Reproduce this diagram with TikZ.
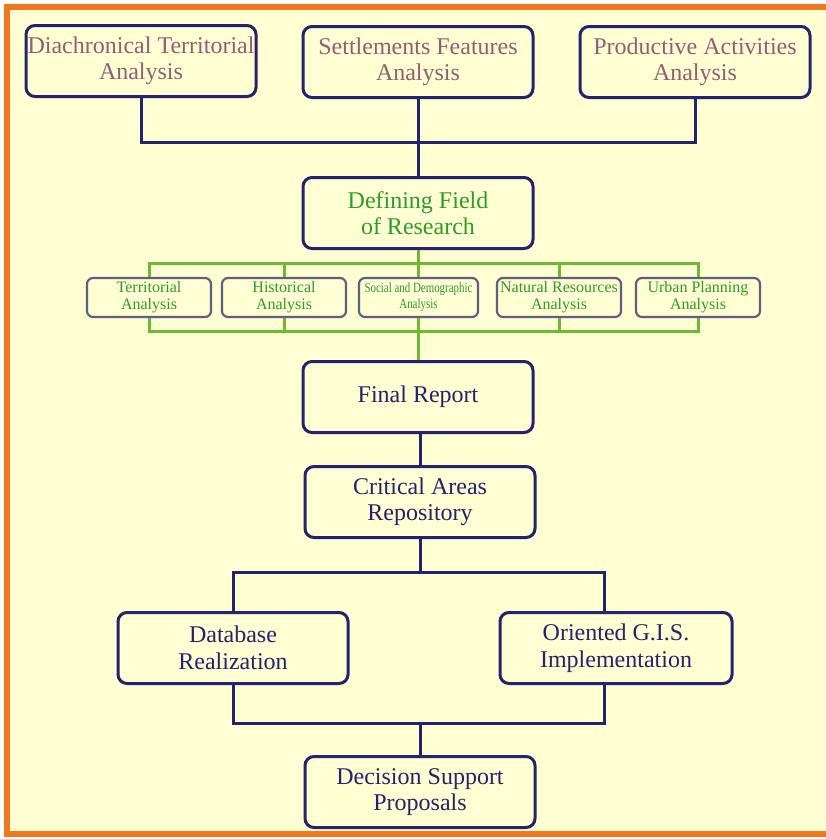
\documentclass[tikz,border=0pt]{standalone}
\usepackage{fontspec}
\setmainfont{Liberation Serif}
\newfontfamily\narrowserif[FakeStretch=0.78]{Liberation Serif}
\usepackage{xcolor}
\definecolor{navy}{RGB}{35,35,110}
\definecolor{mauve}{RGB}{145,95,115}
\definecolor{leaf}{RGB}{45,155,45}
\definecolor{leafline}{RGB}{110,185,50}
\definecolor{slate}{RGB}{95,95,130}
\definecolor{cream}{RGB}{255,253,210}
\definecolor{frame}{RGB}{240,120,30}

\begin{document}
\begin{tikzpicture}[x=1pt,y=-1pt,every node/.style={align=center,inner sep=1pt},bigbox/.style={draw=navy,line width=3pt,rounded corners=9pt,minimum width=230pt,minimum height=71pt,font=\fontsize{24}{26.5}\selectfont},smallbox/.style={draw=slate,line width=2.2pt,rounded corners=6pt,minimum width=124pt,minimum height=39pt,font=\fontsize{16}{17}\selectfont,text=leaf},navyline/.style={draw=navy,line width=3pt},greenline/.style={draw=leafline,line width=3pt}]
\clip (0,0) rectangle (826,839);
\fill[white] (0,0) rectangle (826,839);
\draw[frame,fill=cream,line width=6pt] (7,7) rectangle (850,834);
\node[bigbox,text=mauve] (dia) at (141,61) {Diachronical Territorial\\Analysis};
\node[bigbox,text=mauve] (set) at (418,62) {Settlements Features\\Analysis};
\node[bigbox,text=mauve] (pro) at (695,62) {Productive Activities\\Analysis};
\node[bigbox,text=leaf] (def) at (418,213) {Defining Field\\of Research};
\node[smallbox] (ter) at (149,297.5) {Territorial\\Analysis};
\node[smallbox] (his) at (284,297.5) {Historical\\Analysis};
\node[smallbox,minimum width=119pt,font=\narrowserif\fontsize{14}{16}\selectfont] (soc) at (418.5,297.5) {Social and Demographic\\Analysis};
\node[smallbox] (nat) at (559,297.5) {Natural Resources\\Analysis};
\node[smallbox] (urb) at (698,297.5) {Urban Planning\\Analysis};
\node[bigbox,text=navy] (fin) at (418,397) {Final Report};
\node[bigbox,text=navy] (cri) at (420,502) {Critical Areas\\Repository};
\node[bigbox,text=navy] (dat) at (233,648) {Database\\Realization};
\node[bigbox,text=navy,minimum width=232pt] (gis) at (616,648) {Oriented G.I.S.\\Implementation};
\node[bigbox,text=navy] (dec) at (420,792) {Decision Support\\Proposals};
\coordinate (j1) at (418,142);
\coordinate (g1) at (418,263);
\coordinate (g2) at (418,331);
\coordinate (j2) at (420,572);
\coordinate (j3) at (420,723);
\draw[navyline] (dia.south) |- (j1) -| (pro.south);
\draw[navyline] (set.south) -- (def.north);
\draw[greenline] (def.south) -- (g1);
\draw[greenline] (ter.north) |- (g1) -| (urb.north);
\draw[greenline] (ter.south) |- (g2) -| (urb.south);
\foreach \n in {his,soc,nat} {
  \draw[greenline] (\n.north) -- (\n.north |- g1);
  \draw[greenline] (\n.south) -- (\n.south |- g2);
}
\draw[greenline] (g2) -- (fin.north);
\draw[navyline] (cri.north |- fin.south) -- (cri.north);
\draw[navyline] (cri.south) -- (j2);
\draw[navyline] (dat.north) |- (j2) -| ([xshift=-12pt]gis.north);
\draw[navyline] (dat.south) |- (j3) -| ([xshift=-12pt]gis.south);
\draw[navyline] (j3) -- (dec.north);
\end{tikzpicture}
\end{document}
